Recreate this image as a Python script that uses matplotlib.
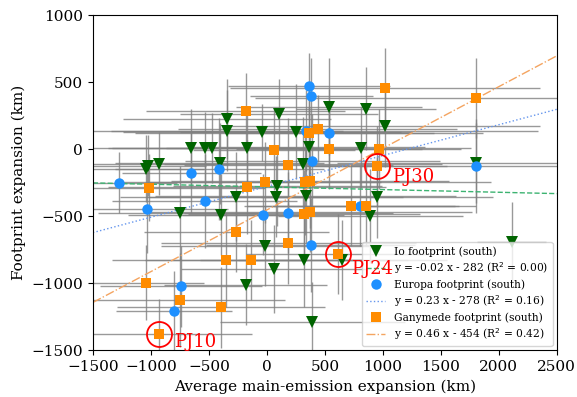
import matplotlib
matplotlib.use("Agg")
import matplotlib.pyplot as plt
import numpy as np

plt.rcParams['font.family'] = 'serif'

# Io footprint (south)
io_x = [-344, -344, 104, -41, 248, -652, -531, -474, -171, -407, 314, 364,
        -1022, -1045, -929, -266, 75, 335, 89, 537, 855, 1019, 810, 1801,
        950, -753, -396, -17, -184, 61, 320, 392, 892, 652, 2110]
io_y = [225, 138, 263, 125, 131, 6, 6, 6, 6, -106, -110, 13,
        -123, -148, -110, -354, -354, -347, -272, 317, 300, 170, 11, -103,
        -360, -476, -489, -725, -1011, -894, -825, -1293, -496, -827, -696]
io_xerr = [900, 1000, 850, 1200, 1000, 900, 800, 900, 700, 900, 1200, 1000,
           500, 500, 600, 1000, 1100, 1300, 900, 800, 600, 1340, 950, 1200,
           1000, 700, 800, 900, 700, 800, 900, 800, 800, 900, 300]
io_yerr = [300, 300, 260, 215, 355, 290, 270, 260, 300, 300, 350, 300,
           230, 250, 235, 330, 300, 350, 300, 360, 310, 300, 300, 300,
           300, 350, 300, 300, 300, 330, 350, 300, 350, 300, 300]

# Europa footprint (south)
eu_x = [364, 381, 335, 537, 392, 1801, -1275, -652, -410, -1036, -537, -35,
        184, 378, -742, -797, 805]
eu_y = [474, 399, 138, 121, -88, -123, -250, -175, -148, -446, -390, -489,
        -474, -713, -1024, -1210, -422]
eu_xerr = [700, 530, 2000, 900, 1100, 1500, 500, 600, 900, 700, 800, 700,
           900, 900, 700, 500, 1000]
eu_yerr = [240, 280, 300, 330, 350, 350, 230, 300, 380, 330, 350, 300,
           300, 350, 300, 300, 300]

# Ganymede footprint (south)
ga_x = [-184, 61, 184, 364, 437, 1019, 1801, 537, 970, 950, -1013, -171,
        -17, 329, 372, 320, 372, 725, 855, -262, 184, -352, -136, -1042,
        -747, -396, -929, 617]
ga_y = [287, -4, -116, 121, 153, 457, 382, -1, -1, -128, -287, -280,
        -248, -243, -239, -485, -470, -422, -422, -616, -703, -825, -827, -998,
        -1125, -1181, -1380, -782]
ga_xerr = [860, 700, 900, 1500, 1200, 1340, 1900, 800, 700, 600, 1000, 1200,
           1000, 1600, 1200, 1000, 1400, 900, 800, 800, 1100, 700, 1200, 500,
           900, 900, 800, 800]
ga_yerr = [280, 300, 350, 380, 250, 300, 300, 300, 300, 300, 250, 350,
           300, 400, 350, 330, 300, 300, 300, 300, 300, 350, 300, 280,
           350, 300, 260, 300]

# linear fits: slope, intercept, R^2
io_fit = (-0.02, -282, 0.00)
eu_fit = (0.23, -278, 0.16)
ga_fit = (0.46, -454, 0.42)

# highlighted perijoves
pj_names = ['PJ10', 'PJ24', 'PJ30']
pj_x = [-929, 617, 950]
pj_y = [-1380, -782, -128]
pj_offsets = [(11, -6), (9, -11), (11, -8)]

fig = plt.figure(figsize=(5.77, 3.97), dpi=100)
ax = fig.add_axes([0.161, 0.118, 0.804, 0.844])

for x, y, xe, ye in [(io_x, io_y, io_xerr, io_yerr),
                     (eu_x, eu_y, eu_xerr, eu_yerr),
                     (ga_x, ga_y, ga_xerr, ga_yerr)]:
    ax.errorbar(x, y, xerr=xe, yerr=ye, fmt='none', ecolor='gray',
                elinewidth=1, alpha=0.8, zorder=1)

xs = np.array([-1500, 2500])
series = [
    (io_x, io_y, io_fit, 'v', 'darkgreen', 8, 'Io footprint (south)',
     'mediumseagreen', '--'),
    (eu_x, eu_y, eu_fit, 'o', 'dodgerblue', 7.5, 'Europa footprint (south)',
     'cornflowerblue', ':'),
    (ga_x, ga_y, ga_fit, 's', 'darkorange', 7.5, 'Ganymede footprint (south)',
     'sandybrown', '-.'),
]
handles = []
for x, y, fit, mk, col, ms, lab, fcol, ls in series:
    pts, = ax.plot(x, y, mk, color=col, ms=ms, mew=0, zorder=3, label=lab)
    a, b, r2 = fit
    sign = '-' if b < 0 else '+'
    flab = f'y = {a:.2f} x {sign} {abs(b):.0f} (R$^2$ = {r2:.2f})'
    fl, = ax.plot(xs, a * xs + b, ls=ls, color=fcol, lw=1, zorder=2, label=flab)
    handles += [pts, fl]

ax.plot(pj_x, pj_y, 'o', mfc='none', mec='red', ms=18, mew=1.3, zorder=4)
for name, x, y, off in zip(pj_names, pj_x, pj_y, pj_offsets):
    ax.annotate(name, (x, y), xytext=off, textcoords='offset points',
                color='red', fontsize=13, ha='left', va='center', zorder=6)

ax.set_xlim(-1500, 2500)
ax.set_ylim(-1500, 1000)
ax.set_xticks(np.arange(-1500, 2501, 500))
ax.set_yticks(np.arange(-1500, 1001, 500))
ax.tick_params(labelsize=11)
ax.set_xlabel('Average main-emission expansion (km)', fontsize=11)
ax.set_ylabel('Footprint expansion (km)', fontsize=11)
ax.legend(handles=handles, loc='lower right', fontsize=7.7, labelspacing=0.3,
          handlelength=1.8, borderaxespad=0.4)

fig.savefig('out.png', dpi=100)
